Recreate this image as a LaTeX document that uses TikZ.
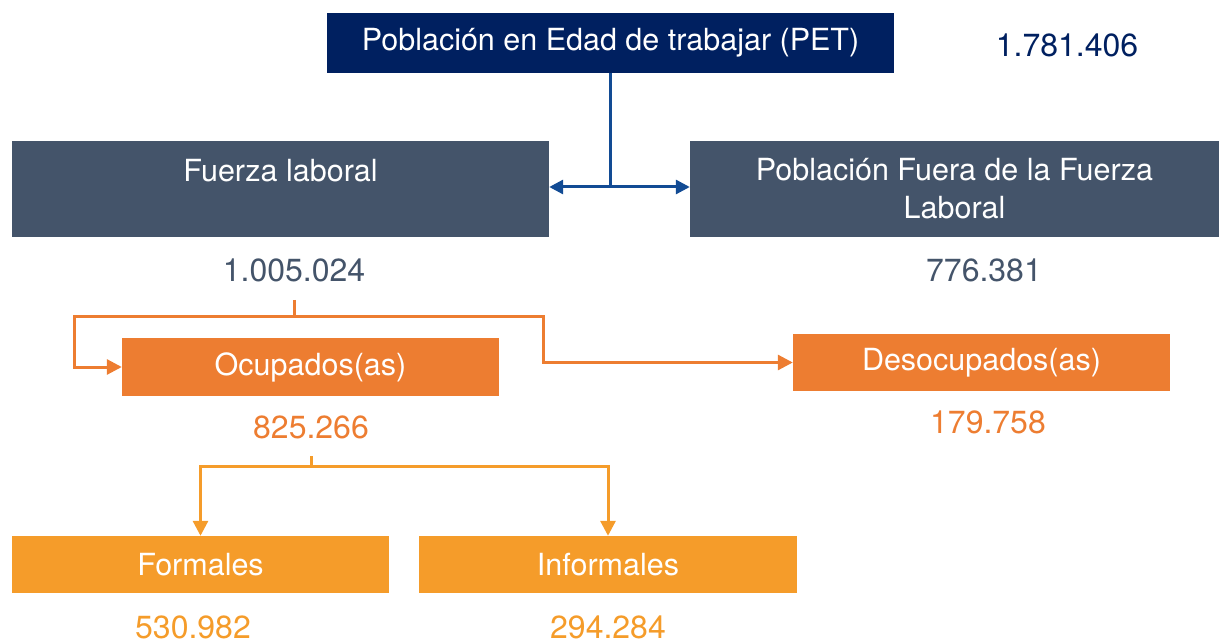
\documentclass[tikz,border=0pt]{standalone}
\usepackage{fontspec}
\setmainfont{TeX Gyre Heros}
\usetikzlibrary{arrows.meta}
\definecolor{navy}{HTML}{002060}
\definecolor{slate}{HTML}{44546A}
\definecolor{orng}{HTML}{ED7D31}
\definecolor{gold}{HTML}{F59C2A}
\definecolor{linkblue}{HTML}{124B94}
\begin{document}
\begin{tikzpicture}[x=1pt,y=-1pt,
  box/.style={rectangle, inner sep=0pt, text=white, font=\fontsize{30.5}{38}\selectfont, align=center},
  num/.style={inner sep=0pt, font=\fontsize{32}{36}\selectfont},
  blueline/.style={draw=linkblue, line width=3pt},
  orline/.style={draw=orng, line width=3pt},
  goldline/.style={draw=gold, line width=3pt},
  tip/.style={-{Triangle[length=15pt,width=15pt]}}]
\useasboundingbox (0,0) rectangle (1219,639);
% boxes
\node[box, fill=navy, minimum width=567, minimum height=60] (pet) at (610.5,43) {Población en Edad de trabajar (PET)};
\node[box, fill=slate, minimum width=537, minimum height=96] (fl) at (280.5,189) {Fuerza laboral\\\phantom{L}};
\node[box, fill=slate, minimum width=529, minimum height=96] (pf) at (954.5,189) {Población Fuera de la Fuerza\\Laboral};
\node[box, fill=orng, minimum width=377, minimum height=58] (ocup) at (310.5,367) {Ocupados(as)};
\node[box, fill=orng, minimum width=377, minimum height=57] (desoc) at (981.5,362.5) {Desocupados(as)};
\node[box, fill=gold, minimum width=377, minimum height=57] (form) at (200.5,564.5) {Formales};
\node[box, fill=gold, minimum width=378, minimum height=57] (inform) at (608,564.5) {Informales};
% numbers
\node[num, text=navy] (npet) at (1067,45) {1.781.406};
\node[num, text=slate] (nfl) at (294,270) {1.005.024};
\node[num, text=slate] (npf) at (984,270) {776.381};
\node[num, text=orng] (nocup) at (311,427) {825.266};
\node[num, text=orng] (ndesoc) at (988,422) {179.758};
\node[num, text=gold] (nform) at (193,627) {530.982};
\node[num, text=gold] (ninform) at (608,627) {294.284};
% connector PET
\coordinate (j1) at (610.5,187);
\draw[blueline] (pet.south) -- (j1);
\draw[blueline, {Triangle[length=14pt,width=14pt]}-{Triangle[length=14pt,width=14pt]}] (fl.east |- j1) -- (pf.west |- j1);
% connector fuerza laboral
\coordinate (s1) at (294,300);
\coordinate (o1) at (294,317);
\coordinate (l1) at (74,317);
\coordinate (r1) at (543,317);
\draw[orline] (s1) -- (o1);
\draw[orline, tip] (o1) -- (l1) |- (ocup.west);
\draw[orline, tip] (o1) -- (r1) |- (desoc.west);
% connector ocupados
\coordinate (s2) at (311,456);
\coordinate (o2) at (311,466);
\draw[goldline] (s2) -- (o2);
\draw[goldline, tip] (o2) -- (form.north |- o2) -- (form.north);
\draw[goldline, tip] (o2) -- (inform.north |- o2) -- (inform.north);
\end{tikzpicture}
\end{document}
